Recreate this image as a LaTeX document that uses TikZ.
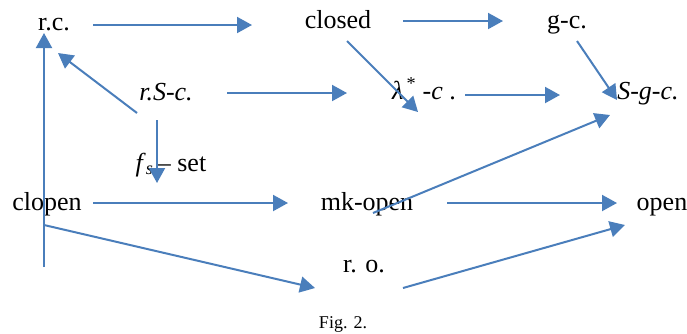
\documentclass[tikz,border=0pt]{standalone}
\usepackage{fontspec}
\setmainfont{Liberation Serif}
\usepackage{tikz}
\usetikzlibrary{arrows.meta}
\definecolor{arrowblue}{RGB}{74,126,187}

\begin{document}
\begin{tikzpicture}[x=1pt, y=-1pt,
    every node/.style={font=\fontsize{26}{30}\selectfont, inner sep=0pt, anchor=base},
    imp/.style={draw=arrowblue, line width=2pt, -{Triangle[length=15pt,width=16pt]}}]
        \useasboundingbox (0,0) rectangle (687,333);

        \node (rc)     at (54,30)   {r.c.};
        \node (closed) at (338,28)  {closed};
        \node (gc)     at (567,28)  {g-c.};
        \node (rsc)    at (166,100) {\textit{r.S-c.}};
        \node (lam)    at (424,99)  {\textit{λ}\textsuperscript{\,*} -\textit{c} .};
        \node (sgc)    at (648,99)  {\textit{S-g-c.}};
        \node (fs)     at (171,171) {\textit{f}\textsubscript{\textit{s}}\,-- set};
        \node (clopen) at (47,210)  {clopen};
        \node (mko)    at (367,210) {mk-open};
        \node (open)   at (662,210) {open};
        \node (ro)     at (364,272) {r. o.};
        \node (fig) [font=\fontsize{18}{21}\selectfont] at (343,328) {Fig. 2.};

        \path
        ([shift={(39,-5)}]rc.base) edge [imp] ([shift={(-86,-3)}]closed.base)
        ([shift={(65,-7)}]closed.base) edge [imp] ([shift={(-64,-7)}]gc.base)
        ([shift={(9,13)}]closed.base) edge [imp] ([shift={(-6,13)}]lam.base)
        ([shift={(10,13)}]gc.base) edge [imp] ([shift={(-31,1)}]sgc.base)
        ([shift={(-29,13)}]rsc.base) edge [imp] ([shift={(4,23)}]rc.base)
        ([shift={(61,-7)}]rsc.base) edge [imp] ([shift={(-77,-6)}]lam.base)
        ([shift={(41,-4)}]lam.base) edge [imp] ([shift={(-88,-4)}]sgc.base)
        ([shift={(-9,20)}]rsc.base) edge [imp] ([shift={(-14,12)}]fs.base)
        ([shift={(-3,57)}]clopen.base) edge [imp] ([shift={(-10,3)}]rc.base)
        ([shift={(-3,15)}]clopen.base) edge [imp] ([shift={(-49,16)}]ro.base)
        ([shift={(46,-7)}]clopen.base) edge [imp] ([shift={(-79,-7)}]mko.base)
        ([shift={(6,3)}]mko.base) edge [imp] ([shift={(-38,16)}]sgc.base)
        ([shift={(80,-7)}]mko.base) edge [imp] ([shift={(-45,-7)}]open.base)
        ([shift={(39,16)}]ro.base) edge [imp] ([shift={(-37,15)}]open.base);
      \end{tikzpicture}
\end{document}
